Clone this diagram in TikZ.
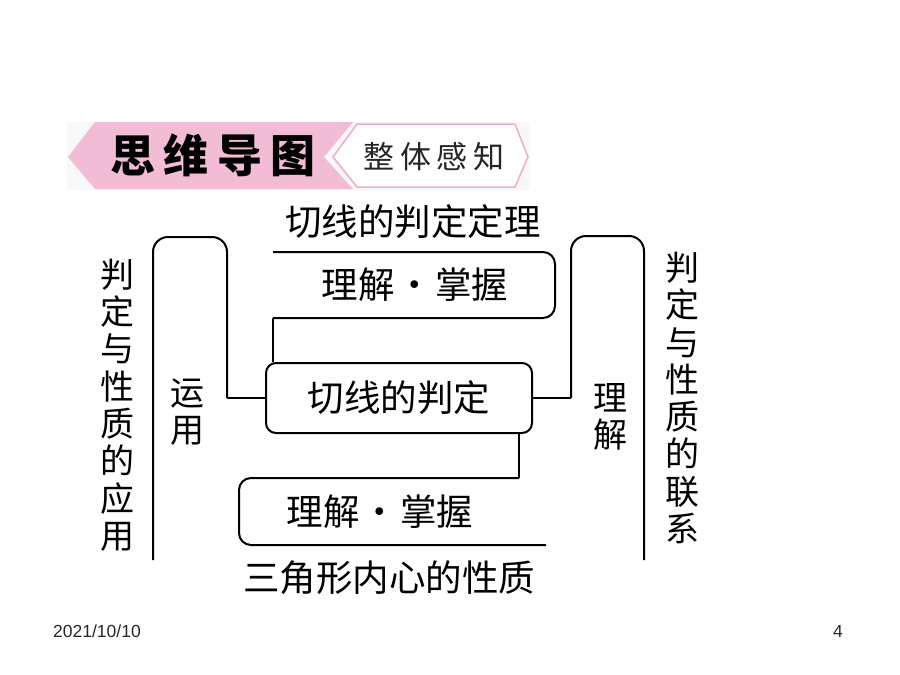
\documentclass[tikz,border=0pt]{standalone}
\usepackage{fontspec}
\setmainfont{Liberation Sans}
\newfontfamily\cjk{Noto Sans CJK SC}
\newfontfamily\cjkwide[LetterSpace=18]{Noto Sans CJK SC}
\definecolor{bannerpink}{RGB}{241,188,212}
\definecolor{bannerline}{RGB}{238,172,202}
\definecolor{bannerbg}{RGB}{248,248,248}

\begin{document}
\begin{tikzpicture}[
    x=1pt, y=-1pt,
    font=\cjk\fontsize{36.5}{36.5}\selectfont,
    line/.style={line width=2pt, black},
    box/.style={draw=black, line width=2pt, rectangle, rounded corners=10pt, minimum width=266pt, minimum height=70pt, inner sep=0pt},
    txt/.style={inner sep=0pt},
    vert/.style={inner sep=0pt, align=center, font=\cjk\fontsize{34}{37.3}\selectfont},
    foot/.style={inner sep=0pt, font=\fontsize{17.5}{18}\selectfont, text=black!85}
]
\useasboundingbox (0,0) rectangle (900,675);

% Banner
\fill[bannerbg] (67,122) rectangle (530,190);
\fill[bannerpink] (68,157) -- (95,122) -- (353,122) -- (324,157) -- (353,189) -- (95,189) -- cycle;
\draw[bannerline, line width=1.5pt, fill=white] (333,157) -- (357,124) -- (515,124) -- (528,157) -- (515,187) -- (357,187) -- cycle;
\node[txt, font=\cjkwide\bfseries\fontsize{45}{45}\selectfont] (mindmap) at (213,155) {思维导图};
\node[txt, font=\cjkwide\fontsize{31}{31}\selectfont, text=black!85] (overview) at (434,157) {整体感知};

% Centre box
\node[box] (judge) at (399,398) {切线的判定};

% Upper box
\node[txt] (theorem) at (413,222) {切线的判定定理};
\node[txt] (upgrasp) at (415,285) {理解\hspace{0.05em}·\hspace{0.05em}掌握};
\coordinate (ua) at (273,252);
\coordinate (ub) at (273,318);
\draw[line, rounded corners=12pt] (ua) -- (555,252) -- (555,318) -- (ub);
\draw[line] (ub) -- (ub |- judge.north);

% Lower box
\node[txt] (lowgrasp) at (380,512) {理解\hspace{0.05em}·\hspace{0.05em}掌握};
\node[txt] (incenter) at (389,578) {三角形内心的性质};
\coordinate (la) at (519,478);
\coordinate (lb) at (546,545);
\draw[line] (la |- judge.south) -- (la);
\draw[line, rounded corners=12pt] (la) -- (239,478) -- (239,545) -- (lb);

% Left bracket
\node[vert] (apply) at (187,412) {运\\用};
\node[vert] (leftcol) at (117,405) {判\\定\\与\\性\\质\\的\\应\\用};
\coordinate (lbot) at (153,560);
\coordinate (ljoin) at (227,398);
\draw[line, rounded corners=15pt] (lbot) -- (153,237) -- (227,237) -- (ljoin);
\draw[line] (ljoin) -- (judge.west);

% Right bracket
\node[vert] (grasp) at (610,417) {理\\解};
\node[vert] (rightcol) at (682,398) {判\\定\\与\\性\\质\\的\\联\\系};
\coordinate (rjoin) at (571,398);
\coordinate (rbot) at (644,560);
\draw[line] (judge.east) -- (rjoin);
\draw[line, rounded corners=15pt] (rjoin) -- (571,236) -- (644,236) -- (rbot);

% Footer
\node[foot] (date) at (97,631) {2021/10/10};
\node[foot] (page) at (838,631) {4};

\end{tikzpicture}
\end{document}
